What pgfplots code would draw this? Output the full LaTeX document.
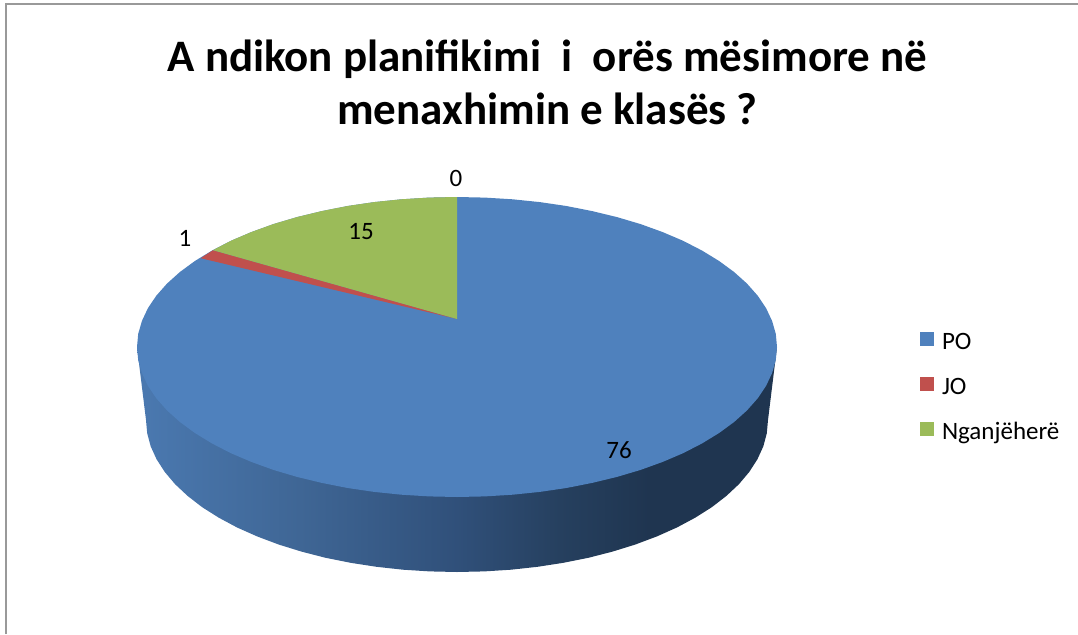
\documentclass[border=0pt]{standalone}
\usepackage{pgfplots}
\pgfplotsset{compat=1.18}
\usepackage{fontspec}
\setmainfont{Carlito}
\definecolor{po}{RGB}{79,129,189}
\definecolor{jo}{RGB}{192,80,77}
\definecolor{ng}{RGB}{155,187,89}
\definecolor{s1}{RGB}{74,120,175}
\definecolor{s2}{RGB}{63,102,149}
\definecolor{s3}{RGB}{48,80,122}
\definecolor{s4}{RGB}{38,64,95}
\definecolor{s5}{RGB}{31,53,80}
% side of the pie, dark towards the right
\pgfdeclarehorizontalshading{pieside}{100bp}{color(0bp)=(s1); color(25.7bp)=(s1); color(37.7bp)=(s2); color(50bp)=(s3); color(58bp)=(s4); color(65bp)=(s5); color(100bp)=(s5)}
\begin{document}
\begin{tikzpicture}
\begin{axis}[scale only axis, width=1078pt, height=634pt, hide axis,
  xmin=0, xmax=1078, ymin=0, ymax=634, y dir=reverse, clip=true,
  legend style={draw=none, fill=none, font=\fontsize{25}{30}\selectfont, inner sep=0pt, outer sep=0pt,
    at={(axis cs:920,326)}, anchor=north west, row sep=18.6pt, cells={anchor=west}},
  legend image code/.code={\fill[#1] (0pt,-7pt) rectangle (14pt,7pt); \path (20pt,0pt);}]
% keeps the whole canvas in the bounding box
\addplot[forget plot, draw=none] coordinates {(0,0) (1078,634)};
% chart frame
\addplot[forget plot, draw=black!40, line width=2pt] coordinates {(6,634) (6,4) (1078,4)};
% side wall
\addplot[forget plot, draw=none, shading=pieside] coordinates {
(777,347) (768,420) (766.8,433.3) (763.3,446.4) (757.4,459.3) (749.2,472) (738.9,484.2) (726.3,496)
(711.8,507.2) (695.2,517.7) (676.9,527.5) (656.9,536.4) (635.4,544.5) (612.5,551.6) (588.4,557.8)
(563.4,562.8) (537.5,566.8) (511,569.7) (484.1,571.4) (457,572) (429.9,571.4) (403,569.7) (376.5,566.8)
(350.6,562.8) (325.6,557.8) (301.5,551.6) (278.6,544.5) (257.1,536.4) (237.1,527.5) (218.8,517.7)
(202.2,507.2) (187.7,496) (175.1,484.2) (164.8,472) (156.6,459.3) (150.7,446.4) (147.2,433.3) (146,420) (137,347)
} -- cycle;
% PO, top face as a whole
\addplot[draw=none, fill=po] coordinates {
(777,347) (775.8,360.1) (772.1,373) (766.1,385.8) (757.7,398.3) (747,410.4) (734.1,422) (719.1,433)
(702.1,443.4) (683.3,453.1) (662.7,461.9) (640.6,469.9) (617,476.9) (592.2,482.9) (566.4,488) (539.8,491.9)
(512.6,494.7) (484.9,496.4) (457,497) (429.1,496.4) (401.4,494.7) (374.2,491.9) (347.6,488) (321.8,482.9)
(297,476.9) (273.4,469.9) (251.3,461.9) (230.7,453.1) (211.9,443.4) (194.9,433) (179.9,422) (167,410.4)
(156.3,398.3) (147.9,385.8) (141.9,373) (138.2,360.1) (137,347) (138.2,333.9) (141.9,321) (147.9,308.2)
(156.3,295.7) (167,283.6) (179.9,272) (194.9,261) (211.9,250.6) (230.7,240.9) (251.3,232.1) (273.4,224.1)
(297,217.1) (321.8,211.1) (347.6,206) (374.2,202.1) (401.4,199.3) (429.1,197.6) (457,197) (484.9,197.6)
(512.6,199.3) (539.8,202.1) (566.4,206) (592.2,211.1) (617,217.1) (640.6,224.1) (662.7,232.1) (683.3,240.9)
(702.1,250.6) (719.1,261) (734.1,272) (747,283.6) (757.7,295.7) (766.1,308.2) (772.1,321) (775.8,333.9)
} -- cycle;
\addlegendentry{\strut PO}
% JO
\addplot[draw=none, fill=jo] coordinates {(457,319) (200.7,258.2) (213,250.2)} -- cycle;
\addlegendentry{\strut JO}
% Nganjehere
\addplot[draw=none, fill=ng] coordinates {
(457,319) (213,250.2) (230.7,240.9) (251.3,232.1) (273.4,224.1) (297,217.1) (321.8,211.1) (347.6,206)
(374.2,202.1) (401.4,199.3) (429.1,197.6) (457,197)
} -- cycle;
\addlegendentry{\strut Nganjëherë}
% title and data labels
\node[align=center, font=\fontsize{45}{53}\selectfont\bfseries] at (axis cs:547.5,82)
  {A ndikon planifikimi\ \ i\ \ orës mësimore në\\menaxhimin e klasës ?};
\node[font=\fontsize{25}{30}\selectfont] at (axis cs:619,450) {76};
\node[font=\fontsize{25}{30}\selectfont] at (axis cs:361,232) {15};
\node[font=\fontsize{25}{30}\selectfont] at (axis cs:185,238) {1};
\node[font=\fontsize{25}{30}\selectfont] at (axis cs:456,178) {0};
\end{axis}
\end{tikzpicture}
\end{document}
